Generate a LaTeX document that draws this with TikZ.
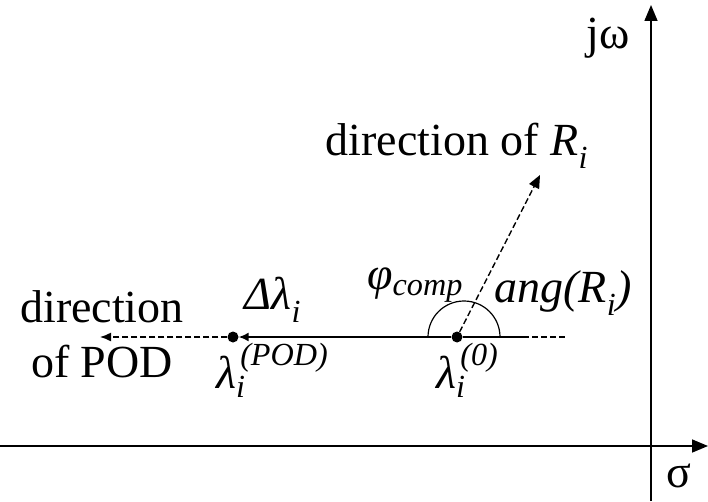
\documentclass[tikz,border=0pt]{standalone}
\usepackage{fontspec}
\usepackage{amsmath}
\setmainfont{Liberation Serif}
\usetikzlibrary{arrows.meta,positioning}

\begin{document}
\begin{tikzpicture}[x=1pt, y=1pt,
  axis/.style={line width=1.6pt, -{Triangle[length=16pt,width=13pt]}},
  dot/.style={circle, fill, inner sep=0pt, minimum size=11pt},
  lbl/.style={font=\fontsize{46}{55}\selectfont, inner sep=0pt, align=center},
  dsh/.style={line width=1.4pt, dash pattern=on 6pt off 3pt},
  arr/.style={-{Triangle[length=13pt,width=11pt]}}]
\useasboundingbox (0,0) rectangle (708,501);
% axes
\coordinate (sw) at (0,55);
\coordinate (se) at (708,55);
\coordinate (ss) at (651,0);
\coordinate (sn) at (651,496);
\draw[axis] (sw) -- (se);
\draw[axis] (ss) -- (sn);
\node[lbl] (jw) at (608,463) {jω};
\node[lbl] (sig) at (679,25) {σ};
% eigenvalues
\node[dot] (l0) at (457,164) {};
\node[dot] (lpod) at (233,164) {};
\coordinate (ra) at (523,164);
\coordinate (rb) at (568,164);
\coordinate (podend) at (100,164);
\coordinate (rtip) at (540,326);
\draw[line width=1.6pt] (l0) -- (ra);
\draw[dsh] (ra) -- (rb);
\draw[line width=1.6pt, -{Latex[length=10pt,width=9pt]}] (l0) -- (lpod);
\draw[dsh, -{Latex[length=11pt,width=9pt]}] (lpod) -- (podend);
\draw[dsh, arr] (l0) -- (rtip);
\draw[line width=1.2pt] ([xshift=43pt]l0.center) arc (0:180:36);
% labels
\node[lbl] (dirR) at (457,355) {direction of \textit{R}\textsubscript{\textit{i}}};
\node[lbl] (phi) at (415,216) {\textit{φ}\textsubscript{\textit{comp}}};
\node[lbl] (ang) at (563,208) {\textit{ang(R}\textsubscript{\textit{i}}\textit{)}};
\node[lbl] (dl) at (273,201) {\textit{Δλ}\textsubscript{\textit{i}}};
\node[lbl, anchor=base west] (lpodlbl) at (216,113) {$\text{\itshape λ}_{\textit{i}}^{\,\textit{(POD)}}$};
\node[lbl, anchor=base west] (l0lbl) at (436,113) {$\text{\itshape λ}_{\textit{i}}^{\,\textit{(0)}}$};
\node[lbl] (dirP) at (102,167) {direction\\of POD};
\end{tikzpicture}
\end{document}
